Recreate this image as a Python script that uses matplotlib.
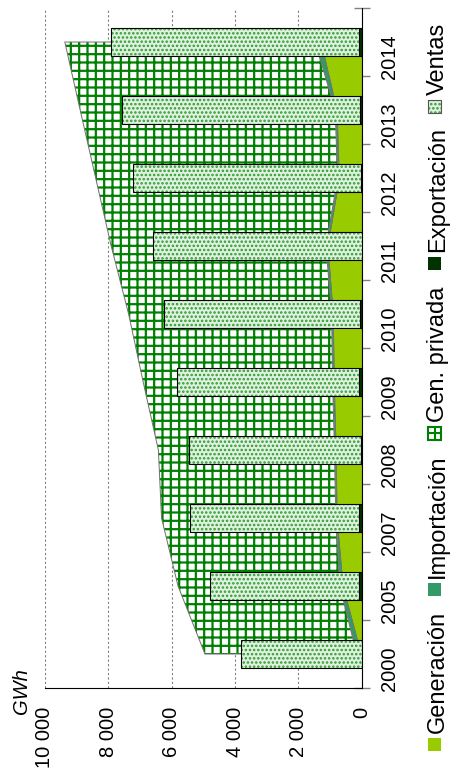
import numpy as np
import matplotlib.pyplot as plt
from matplotlib.patches import Rectangle
from matplotlib.lines import Line2D
from matplotlib.ticker import FuncFormatter

plt.rcParams['font.family'] = ['Liberation Sans', 'DejaVu Sans']

# data (GWh)
years = ['2000', '2005', '2007', '2008', '2009', '2010', '2011', '2012', '2013', '2014']
generacion = [25, 600, 790, 820, 880, 910, 1080, 720, 790, 1290]
importacion = [135, 90, 30, 40, 40, 40, 50, 40, 50, 180]
gen_privada = [4790, 5110, 5500, 5560, 5980, 6410, 6780, 7640, 8050, 7905]
exportacion = [0, 80, 90, 20, 90, 40, 0, 30, 40, 100]
ventas = [3810, 4710, 5335, 5445, 5735, 6205, 6605, 7185, 7525, 7820]

legend_labels = ['Generación', 'Importación', 'Gen. privada', 'Exportación', 'Ventas']

W, H = 452, 768
fig = plt.figure(figsize=(W / 100, H / 100), dpi=100)
ax = fig.add_axes([45 / W, 1 - 688 / H, (361.7 - 45) / W, (688 - 8) / H])

y = np.arange(len(years))
gen = np.array(generacion)
imp_top = gen + np.array(importacion)
tot = imp_top + np.array(gen_privada)

# stacked areas
ax.fill_betweenx(y, 0, gen, facecolor='#99cc00', edgecolor='#6f6f6f', linewidth=0.5, zorder=2)
ax.fill_betweenx(y, gen, imp_top, facecolor='#339966', edgecolor='#6f6f6f', linewidth=0.5, zorder=2)
with plt.rc_context({'hatch.linewidth': 1.6}):
    ax.fill_betweenx(y, imp_top, tot, facecolor='white', hatch='++', edgecolor='#008000',
                     linewidth=0, zorder=2)
ax.fill_betweenx(y, imp_top, tot, facecolor='none', edgecolor='#6f6f6f', linewidth=0.7, zorder=2)

# stacked bars
bh = 0.4
ax.barh(y, exportacion, height=bh, color='#003300', edgecolor='black', linewidth=0.8, zorder=3)
with plt.rc_context({'hatch.linewidth': 1.2}):
    ax.barh(y, ventas, left=exportacion, height=bh, color='#dff1df', hatch='....',
            edgecolor='#2f9a2f', linewidth=0, zorder=3)
ax.barh(y, ventas, left=exportacion, height=bh, fill=False, edgecolor='black', linewidth=0.8, zorder=4)

# axes
ax.set_xlim(10000, 0)
ax.set_ylim(-0.5, len(years) - 0.5)
ax.set_xticks(range(0, 10001, 2000))
ax.xaxis.set_major_formatter(FuncFormatter(lambda v, p: f'{int(v):,}'.replace(',', ' ')))
ax.tick_params(axis='x', length=0, labelsize=14.5, labelrotation=90, pad=13.5)
ax.grid(axis='x', color='#808080', linestyle=(0, (2, 2)), linewidth=0.8)
ax.set_axisbelow(True)

ax.yaxis.tick_right()
ax.set_yticks(y)
ax.set_yticklabels(years)
ax.set_yticks(np.arange(-0.5, len(years)), minor=True)
ax.tick_params(axis='y', which='major', length=0, labelsize=14.5, labelrotation=90, pad=13)
ax.tick_params(axis='y', which='minor', length=12, direction='inout', color='#808080', width=1)
for s in ['left', 'top']:
    ax.spines[s].set_visible(False)

fig.text(22 / W, 1 - 691 / H, 'GWh', rotation=90, style='italic', fontsize=14.5,
         ha='center', va='center')

# legend drawn by hand, rotated
starts = [733, 578, 422, 252, 95]
for lab, st in zip(legend_labels, starts):
    x0, y0 = 428 / W, 1 - (st + 18) / H
    w, h = 13 / W, 13 / H
    if lab == 'Generación':
        fig.add_artist(Rectangle((x0, y0), w, h, transform=fig.transFigure, facecolor='#99cc00', lw=0))
    elif lab == 'Importación':
        fig.add_artist(Rectangle((x0, y0), w, h, transform=fig.transFigure, facecolor='#339966', lw=0))
    elif lab == 'Exportación':
        fig.add_artist(Rectangle((x0, y0), w, h, transform=fig.transFigure, facecolor='#003300', lw=0))
    elif lab == 'Gen. privada':
        fig.add_artist(Rectangle((x0, y0), w, h, transform=fig.transFigure, facecolor='white',
                                 edgecolor='#008000', lw=1.5))
        fig.add_artist(Line2D([x0, x0 + w], [y0 + h / 2] * 2, transform=fig.transFigure, color='#008000', lw=1.5))
        fig.add_artist(Line2D([x0 + w / 2] * 2, [y0, y0 + h], transform=fig.transFigure, color='#008000', lw=1.5))
    else:
        with plt.rc_context({'hatch.linewidth': 1.2}):
            fig.add_artist(Rectangle((x0, y0), w, h, transform=fig.transFigure, facecolor='#dff1df',
                                     hatch='....', edgecolor='#2f9a2f', lw=0))
        fig.add_artist(Rectangle((x0, y0), w, h, transform=fig.transFigure, fill=False,
                                 edgecolor='#555555', lw=0.8))
    fig.text(444 / W, 1 - st / H, lab, rotation=90, rotation_mode='anchor', ha='left',
             va='baseline', fontsize=17)

fig.savefig('out.png', dpi=100)
